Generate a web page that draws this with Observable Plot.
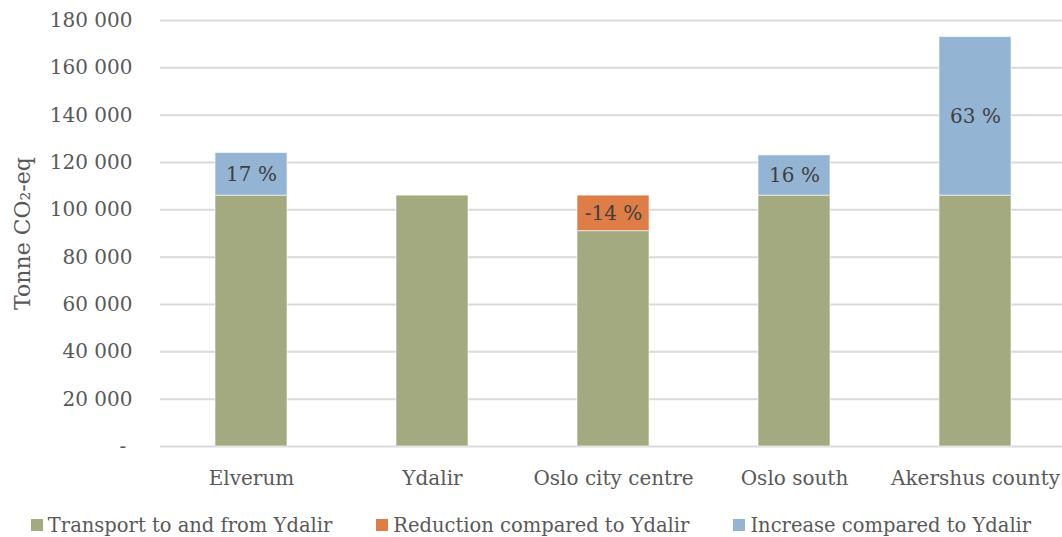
<!DOCTYPE html>
<html>
<head>
<meta charset="utf-8">
<script src="https://cdn.jsdelivr.net/npm/d3@7"></script>
<script src="https://cdn.jsdelivr.net/npm/@observablehq/plot@0.6"></script>
<style>
  html, body { margin: 0; padding: 0; background: #fff; }
  #chart { width: 1062px; }
  .legend { display: flex; justify-content: center; align-items: center; gap: 44px; height: 32px; padding-top: 8px;
    font-family: "DejaVu Serif", serif; font-size: 19.5px; color: #595959; box-sizing: border-box; }
  .legend span.item { display: flex; align-items: center; white-space: nowrap; }
  .legend span.sw { display: inline-block; width: 12px; height: 12px; margin-right: 5px; }
</style>
</head>
<body>
<div id="chart"></div>
<script>
const categories = ["Elverum", "Ydalir", "Oslo city centre", "Oslo south", "Akershus county"];
const transport = [106000, 106000, 91000, 106000, 106000];
const reduction = [0, 0, 15000, 0, 0];
const increase = [18000, 0, 0, 17000, 67000];
const pctLabels = ["17 %", "", "-14 %", "16 %", "63 %"];
const seriesNames = ["Transport to and from Ydalir", "Reduction compared to Ydalir", "Increase compared to Ydalir"];
const seriesColors = ["#A3AA7F", "#DE7D45", "#93B4D3"];
const yTicks = [0, 20000, 40000, 60000, 80000, 100000, 120000, 140000, 160000, 180000];
const yTitle = "Tonne CO\u2082-eq";

const rows = [];
categories.forEach((c, i) => {
  rows.push({cat: c, series: seriesNames[0], value: transport[i], label: ""});
  if (reduction[i] > 0) rows.push({cat: c, series: seriesNames[1], value: reduction[i], label: pctLabels[i]});
  if (increase[i] > 0) rows.push({cat: c, series: seriesNames[2], value: increase[i], label: pctLabels[i]});
});

const fmt = d => d === 0 ? "-\u00A0" : d3.format(",")(d).replace(/,/g, " ");
const font = "DejaVu Serif";

const chart = Plot.plot({
  width: 1062,
  height: 505,
  marginLeft: 160,
  marginRight: 0,
  marginTop: 20,
  marginBottom: 59,
  style: {fontFamily: font, fontSize: "20px", color: "#595959", background: "#fff"},
  x: {domain: categories, range: [160.5, 1066.5], paddingInner: 0.6, paddingOuter: 0.3, label: null},
  y: {domain: [0, 180000], label: null},
  color: {domain: seriesNames, range: seriesColors},
  marks: [
    Plot.ruleY(yTicks, {stroke: "#D9D9D9", strokeWidth: 2}),
    Plot.barY(rows, Plot.stackY({x: "cat", y: "value", z: "series", fill: "series", order: null,
      stroke: "#ffffff", strokeOpacity: 0.6, strokeWidth: 1})),
    Plot.text(rows, Plot.stackY({x: "cat", y: "value", z: "series", order: null, text: "label",
      fill: "#404040", fontSize: 20})),
    Plot.axisY({ticks: yTicks, tickFormat: fmt, tickSize: 0, tickPadding: 28, label: null, fill: "#595959"}),
    Plot.axisX({tickSize: 0, tickPadding: 24, label: null, fill: "#595959"}),
    Plot.text([yTitle], {frameAnchor: "left", dx: -138, rotate: -90, textAnchor: "middle", fill: "#595959", fontSize: 22})
  ]
});
document.getElementById("chart").appendChild(chart);

const legend = document.createElement("div");
legend.className = "legend";
seriesNames.forEach((n, i) => {
  const item = document.createElement("span");
  item.className = "item";
  const sw = document.createElement("span");
  sw.className = "sw";
  sw.style.background = seriesColors[i];
  item.appendChild(sw);
  item.appendChild(document.createTextNode(n));
  legend.appendChild(item);
});
document.getElementById("chart").appendChild(legend);
</script>
</body>
</html>
